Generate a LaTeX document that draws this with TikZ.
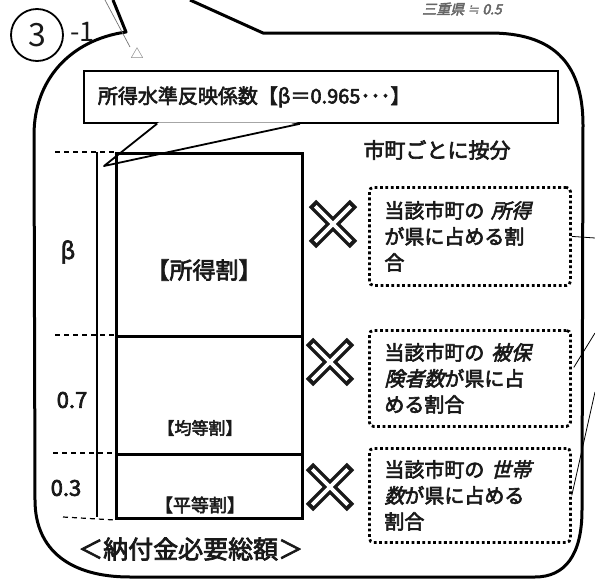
\documentclass[tikz,border=0pt]{standalone}
\usepackage{fontspec}
\setmainfont{Noto Sans CJK JP}[FakeBold=3]
\newfontfamily\jpslant{Noto Sans CJK JP}[FakeSlant=0.25, FakeBold=3]
\newfontfamily\jpthin{Noto Sans CJK JP}
\newfontfamily\symfont{DejaVu Sans}[FakeSlant=0.25]
\usetikzlibrary{calc}

\begin{document}
\begin{tikzpicture}[
  x=1pt, y=-1pt,
  every node/.style={inner sep=0pt, text=black!90},
  bubble/.style={draw, line width=3pt, line join=round},
  block/.style={draw, line width=3pt, minimum width=186pt, anchor=north west},
  share/.style={draw, line width=2.8pt, dash pattern=on 2.8pt off 2.6pt,
    rounded corners=4pt, anchor=north west, minimum width=201pt,
    text width=171pt, inner xsep=15pt, align=left,
    font=\fontsize{20}{26}\selectfont},
  tick/.style={line width=1.2pt, dash pattern=on 5pt off 4pt},
  arm/.style={fill=black!90, minimum width=58pt, minimum height=10.5pt},
  armcore/.style={fill=white, minimum width=50pt, minimum height=3.6pt},
  pencil/.style={black!55, line width=0.7pt}
]
\useasboundingbox (0,0) rectangle (595,581);

% speech bubble round everything
\draw[bubble] (113,0) -- (126,32)
  .. controls (70,40) and (34,80) .. (34,135) -- (35,500)
  .. controls (35,550) and (70,577) .. (130,577) -- (535,577)
  .. controls (565,577) and (582,555) .. (582,510) -- (583,125)
  .. controls (583,60) and (550,33) .. (490,33) -- (263,33) -- (190,0);

% number and pencil notes
\node[draw, circle, line width=1.8pt, minimum size=52pt,
  font=\jpthin\fontsize{32}{32}\selectfont] (num) at (37,35) {3};
\node[anchor=west, font=\jpthin\fontsize{27}{27}\selectfont] (sub) at (70,32) {-1};
\draw[pencil] (105,0) -- (130,47);
\node[text=black!60, font=\jpthin\fontsize{13}{13}\selectfont] (mark) at (137,53) {△};
\node[text=black!60, font=\jpslant\fontsize{14}{14}\selectfont] (memo) at (462,9)
  {三重県 {\symfont ≒} 0.5};

% coefficient callout
\coordinate (tip) at (104,166);
\node[draw, line width=1.8pt, anchor=north west, minimum width=460pt,
  minimum height=52pt, text width=446pt, inner xsep=14pt, align=left,
  font=\fontsize{20}{20}\selectfont] (keisu) at (83,70) {所得水準反映係数【β＝0.965･･･】};
\fill[white] ($(keisu.south west)+(76,-1.5)$) -- (tip) -- ($(keisu.south west)+(215,-1.5)$) -- cycle;
\draw[line width=1.8pt, line join=round] ($(keisu.south west)+(74,0)$) -- (tip)
  -- ($(keisu.south west)+(217,0)$);

% total amount split in three
\node[block, minimum height=183pt] (shotoku) at (115,152) {};
\node[block, minimum height=118pt] (kinto) at (115,335) {};
\node[block, minimum height=64pt] (byodo) at (115,453) {};
\node[font=\fontsize{23}{23}\selectfont] (shotokuL) at (204,270) {【所得割】};
\node[font=\fontsize{17}{17}\selectfont] (kintoL) at (200,428) {【均等割】};
\node[font=\fontsize{18}{18}\selectfont] (byodoL) at (200,505) {【平等割】};
\node[anchor=west, font=\fontsize{25}{25}\selectfont] (sogaku) at (78,549) {＜納付金必要総額＞};

% ratios on the left
\coordinate (dimtop) at (97,152);
\coordinate (dimbot) at (97,517);
\draw[line width=1.2pt] (dimtop) -- (dimbot);
\draw[tick] (55,152) -- (shotoku.north west);
\draw[tick] (55,335) -- (kinto.north west);
\draw[tick] (53,453) -- (byodo.north west);
\draw[tick] (63,517) -- (byodo.south west);
\node[font=\fontsize{23}{23}\selectfont] (beta) at (68,252) {β};
\node[font=\fontsize{22}{22}\selectfont] (ratio7) at (72,400) {0.7};
\node[font=\fontsize{22}{22}\selectfont] (ratio3) at (66,488) {0.3};

% shares per town
\node[font=\fontsize{21}{21}\selectfont] (anbun) at (437,150) {市町ごとに按分};
\node[share, minimum height=98pt] (share1) at (368,186)
  {当該市町の {\jpslant 所得}\\が県に占める割\\合};
\node[share, minimum height=96pt] (share2) at (368,329)
  {当該市町の {\jpslant 被保}\\{\jpslant 険者数}が県に占\\める割合};
\node[share, minimum height=94pt] (share3) at (368,447)
  {当該市町の {\jpslant 世帯}\\{\jpslant 数}が県に占める\\割合};

% multiply signs
\node[arm, rotate=45] (x1a) at (333,224) {};
\node[arm, rotate=-45] (x1b) at (333,224) {};
\node[armcore, rotate=45] at (x1a) {};
\node[armcore, rotate=-45] at (x1b) {};
\node[arm, rotate=45] (x2a) at (330,362) {};
\node[arm, rotate=-45] (x2b) at (330,362) {};
\node[armcore, rotate=45] at (x2a) {};
\node[armcore, rotate=-45] at (x2b) {};
\node[arm, rotate=45] (x3a) at (330,487) {};
\node[arm, rotate=-45] (x3b) at (330,487) {};
\node[armcore, rotate=45] at (x3a) {};
\node[armcore, rotate=-45] at (x3b) {};

% leader lines leaving to the right
\coordinate (out1) at (595,238);
\coordinate (out2) at (595,333);
\coordinate (out3) at (595,392);
\draw[line width=0.8pt] (share1.east) -- (out1);
\draw[line width=0.8pt] ($(share2.east)+(2,-11)$) -- (out2);
\draw[line width=0.8pt] (share3.east) -- (out3);
\end{tikzpicture}
\end{document}
